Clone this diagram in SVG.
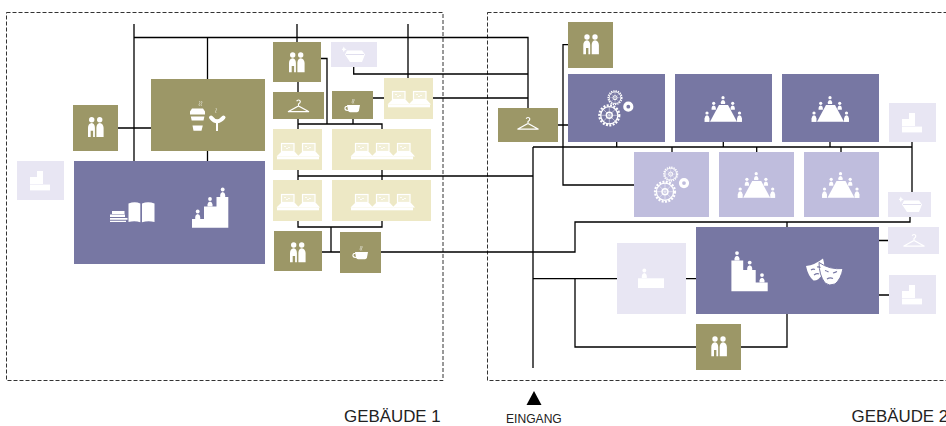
<svg xmlns="http://www.w3.org/2000/svg" width="946" height="426" viewBox="0 0 946 426">
<style>
text{font-family:"Liberation Sans",Arial,sans-serif;fill:#222}
.ol{fill:#9c9767}.pu{fill:#7777a3}.lp{fill:#bfbddd}.vl{fill:#e8e6f3}.cr{fill:#ede8c5}
.frame{fill:none;stroke:#333;stroke-width:1;stroke-dasharray:4 2}
#connectors path{fill:none;stroke:#000;stroke-width:1.300}
.ic{fill:#fff}
.ln{fill:none;stroke:#fff;stroke-width:1.200}
.st{fill:none;stroke:#fff;stroke-width:.7;opacity:.7}
</style>
<defs>
<g id="wc" class="ic"><circle cx="-4" cy="0" r="2.700"/><circle cx="4" cy="0" r="2.700"/><path d="M-7.700 17.300V8q0-4 3.700-4.700q3.200.7 3.200 4.700V17.300H-2.600V11H-5V17.300z"/><path d="M.7 17.300V8q0-4 3.300-4.700q3.700.7 3.900 4.700V17.300z"/></g>
<g id="hanger"><path class="ln" d="M-10.500 5.200L0-.5L10.500 5.200zM0-.5V-2.500q2-1 1.800-2.600a1.900 1.900 0 0 0-3.600-.2"/></g>
<g id="laptop"><rect x=".5" y=".5" width="12.500" height="8" fill="#fff" fill-opacity=".3" stroke="#fff" stroke-width="1.200"/><path d="M3 3h2v1H3zM7 4h2v1H7zM5 5h2v1H5z" class="ic" opacity=".8"/><path class="ic" d="M0 9H14L18 13.500H-4.500z"/></g>
<g id="lap2"><use href="#laptop"/><use href="#laptop" x="21"/><rect class="ic" x="-4" y="13.500" width="42" height="2.800"/></g>
<g id="lap3"><use href="#laptop"/><use href="#laptop" x="21"/><use href="#laptop" x="42"/><rect class="ic" x="-4" y="13.500" width="62" height="2.800"/></g>
<g id="coffee"><path class="ic" d="M0 0H13L12 5.500Q11.500 7.200 10 7.200H3Q1.500 7.200 1 5.500z"/><path class="ln" d="M.5 1.500H-1Q-2.200 2-2 4Q-1.500 5.500 1 5.500"/><path class="st" d="M5.500-1.500q-1-1.500 0-2.500t0-2M6.800-1.500q-1-1.500 0-2.500t0-2"/></g>
<g id="bag"><path class="ic" d="M2 .5H17L20 4.500L17 12H5L0 4.500z"/><path d="M1 4.500H19" stroke="#d8d6ea" stroke-width=".8" fill="none"/><path class="ic" d="M-3.300 -.7l1.200 -.9l.9-2l.9 2l2 .9l-2 .9l-.9 2l-.9-2z"/></g>
<g id="step" class="ic"><path d="M7 0h6v6H7z"/><path d="M0 6h13v7H0z"/><path d="M0 13.600h20v5.800H0z"/></g>
<g id="person" class="ic"><circle cx="0" cy="0" r="1.900"/><path d="M-2.500 7.500V5.400Q-2.400 3.200 0 2.600Q2.400 3.200 2.500 5.400V7.500z"/></g>
<g id="stairs"><path class="ic" d="M0 0V-8.700H12V-21.200H24.500V-30.700H36.300V0z"/><use href="#person" x="5.700" y="-16.200"/><use href="#person" x="18" y="-28.700"/><use href="#person" x="30.700" y="-38.200"/></g>
<g id="gear1"><circle r="8.600" fill="none" stroke="#fff" stroke-width="1.300"/><circle r="10" fill="none" stroke="#fff" stroke-width="2.200" stroke-dasharray="2 1.400"/><circle r="3" fill="none" stroke="#fff" stroke-width="1.400"/><path d="M0-8.800V8.800M-8.800 0H8.800M-6.200-6.200L6.200 6.200M-6.200 6.200L6.200-6.200" stroke="#fff" stroke-width=".7" opacity=".7"/></g>
<g id="gears"><use href="#gear1" x="0" y="0"/><g transform="translate(5.700 -17.600) scale(.68)"><use href="#gear1"/></g><circle cx="19" cy="-8.600" r="3.500" fill="none" stroke="#fff" stroke-width="3.200"/></g>
<g id="conf"><path class="ic" d="M-4.500-16.700H4.500L13.500 0H-13.500z"/><g transform="translate(-.5 -24) scale(.85)"><use href="#person"/></g><g transform="translate(-9.800 -18.400) scale(.85)"><use href="#person"/></g><g transform="translate(9.200 -18.400) scale(.85)"><use href="#person"/></g><g transform="translate(-16.500 -8.700) scale(.85)"><use href="#person"/><rect class="ic" x="-2.900" y="6" width="5.800" height="4.500"/></g><g transform="translate(16 -8.700) scale(.85)"><use href="#person"/><rect class="ic" x="-2.900" y="6" width="5.800" height="4.500"/></g></g>
</defs>
<g id="frames">
<rect class="frame" x="6.500" y="12.500" width="436.500" height="368"/>
<rect class="frame" x="487.500" y="12.500" width="470" height="368"/>
</g>
<g id="connectors">
<path d="M134 24V161M134 37.500H528V108M207.500 37.500V79M207.500 151V161M118 128H151M297 24V42M408 24V78"/>
<path d="M353.700 67V74H528M373 98H384M433 98H528"/>
<path d="M321 58.500H327V124M298 82V92M298 119V129M298 124H382V129M353 119V124"/>
<path d="M298 170V180M298 176H533M382 170V180"/>
<path d="M298 221V227H382V221M331 227V252M322 252H340M381 252H575V222H910V217M787 222V227"/>
<path d="M533 147V368M533 147H912M616.700 142V147M672 147V152M723.300 142V147M756.700 147V152M830 142V147M841 147V152M912 142V192"/>
<path d="M568 44.700H563V185H634M558 125H568"/>
<path d="M533 278.700H617M686 278.700H696M575 278.700V347H696M741 347H787V314M879 240.500H889M879 295H889"/>
</g>
<g id="library"><rect class="pu" x="74" y="161" width="191" height="103"/>
<path class="ic" d="M128.500 203.500Q135 201 140.300 203.500V222.300Q135 220.500 128.500 222zM142 203.500Q148 201 154.500 203.500V222Q148 220.500 142 222.300z"/>
<path class="ic" d="M112 211h12.500v3H112zM110 214.500h15v2.500H110zM110 218h17.500v1.800H110zM110 220.800h16v1.200H110z"/>
<use href="#stairs" x="192" y="227.700"/></g>
<g id="cafe"><rect class="ol" x="151" y="79" width="114" height="72"/>
<path class="ic" d="M192 108.500H203L205 111.500V114.500H190V111.500zM190.800 116.500H204.400L203.500 120.500H191.700zM192.500 125.500H202.800L201.500 130.800H193.500z"/>
<path d="M199.500 106q-1-1.500 0-2.500t0-2.500M201.500 106q-1-1.500 0-2.500t0-2.500M216 113q-1-1.500 0-2.500t0-2.500" class="st"/>
<path d="M211 117.500Q217 125 223.500 117.500" fill="none" stroke="#fff" stroke-width="4" stroke-linecap="round"/><rect class="ic" x="216" y="122" width="2" height="9"/></g>
<g id="wc1"><rect class="ol" x="73" y="105" width="45" height="46"/><use href="#wc" x="95.700" y="119.700"/></g>
<g id="stairs-l1"><rect class="vl" x="17" y="161" width="47" height="39"/><use href="#step" x="30" y="171"/></g>
<g id="wc2"><rect class="ol" x="273" y="42" width="48" height="40"/><use href="#wc" x="296.700" y="55"/></g>
<g id="hanger1"><rect class="ol" x="273" y="92" width="51" height="27"/><use href="#hanger" x="298.500" y="106.500"/></g>
<g id="coffee1"><rect class="ol" x="332" y="91" width="41" height="28"/><use href="#coffee" x="347" y="105"/></g>
<g id="bag1"><rect class="vl" x="331" y="42" width="46" height="25"/><use href="#bag" x="345" y="50"/></g>
<g id="lab1"><rect class="cr" x="384" y="78" width="49" height="41"/><use href="#lap2" x="392" y="91"/></g>
<g id="lab2"><rect class="cr" x="273" y="129" width="49" height="41"/><use href="#lap2" x="281" y="143"/></g>
<g id="lab3"><rect class="cr" x="332" y="129" width="99" height="41"/><use href="#lap3" x="355" y="143"/></g>
<g id="lab4"><rect class="cr" x="273" y="180" width="49" height="41"/><use href="#lap2" x="281" y="194"/></g>
<g id="lab5"><rect class="cr" x="332" y="180" width="99" height="41"/><use href="#lap3" x="355" y="194"/></g>
<g id="wc3"><rect class="ol" x="274" y="231" width="48" height="40"/><use href="#wc" x="297.700" y="245"/></g>
<g id="coffee2"><rect class="ol" x="340" y="232" width="41" height="41"/><use href="#coffee" x="355" y="252"/></g>
<g id="hanger2"><rect class="ol" x="498" y="108" width="60" height="34"/><use href="#hanger" x="528" y="124"/></g>
<g id="wc4"><rect class="ol" x="568" y="22" width="45" height="46"/><use href="#wc" x="591" y="37"/></g>
<g id="gears1"><rect class="pu" x="568" y="74" width="97" height="68"/><use href="#gears" x="609.300" y="115.300"/></g>
<g id="conf1"><rect class="pu" x="675" y="74" width="97" height="68"/><use href="#conf" x="723.500" y="121.700"/></g>
<g id="conf2"><rect class="pu" x="782" y="74" width="97" height="68"/><use href="#conf" x="830.500" y="121.700"/></g>
<g id="stairs-r1"><rect class="vl" x="889" y="103" width="47" height="39"/><use href="#step" x="902" y="113"/></g>
<g id="gears2"><rect class="lp" x="634" y="152" width="75" height="65"/><use href="#gears" x="665" y="191.700"/></g>
<g id="conf3"><rect class="lp" x="719" y="152" width="75" height="65"/><use href="#conf" x="756.700" y="197.700"/></g>
<g id="conf4"><rect class="lp" x="804" y="152" width="75" height="65"/><use href="#conf" x="841" y="197.700"/></g>
<g id="bag2"><rect class="vl" x="888" y="192" width="43" height="25"/><use href="#bag" x="902" y="200"/></g>
<g id="hanger3"><rect class="vl" x="888" y="227" width="51" height="27"/><use href="#hanger" x="914" y="241"/></g>
<g id="stairs-r2"><rect class="vl" x="889" y="275" width="47" height="39"/><use href="#step" x="902" y="285"/></g>
<g id="theatre"><rect class="pu" x="696" y="227" width="183" height="87"/>
<g transform="translate(767.700 291.300) scale(-1 1)"><use href="#stairs"/></g>
<path class="ic" d="M806 266Q815 265 823 258.500Q826 268 822 275Q818 281 813.500 280.500Q808 276 806 266z"/>
<path class="ic" stroke="#7777a3" stroke-width="1" d="M819 262.500Q830 270 843 268.500Q841 279 835 284Q829 286.500 825 283Q819 275 819 262.500z"/>
<path d="M811 270q2-1.500 4-.5M817 267q2-.5 3.500 .5M814 275q3-2 5-1M825 270.500q2 .5 3.500 1.500M833 273q2-.5 4-1.500M827 279q3-2 6-.5" fill="none" stroke="#7777a3" stroke-width="1.200"/></g>
<g id="desk"><rect class="vl" x="617" y="243" width="69" height="71"/><rect class="ic" x="638" y="278.300" width="26" height="9.700"/><use href="#person" x="644.300" y="270.500"/></g>
<g id="wc5"><rect class="ol" x="696" y="324" width="45" height="46"/><use href="#wc" x="719" y="339"/></g>
<g id="labels">
<text x="344" y="422" font-size="16.900">GEBÄUDE 1</text>
<text x="851.500" y="422" font-size="16.900">GEBÄUDE 2</text>
<text x="506" y="423" font-size="12.100">EINGANG</text>
<path d="M534 391L541.500 405H526.500z" fill="#000"/>
</g>
</svg>
